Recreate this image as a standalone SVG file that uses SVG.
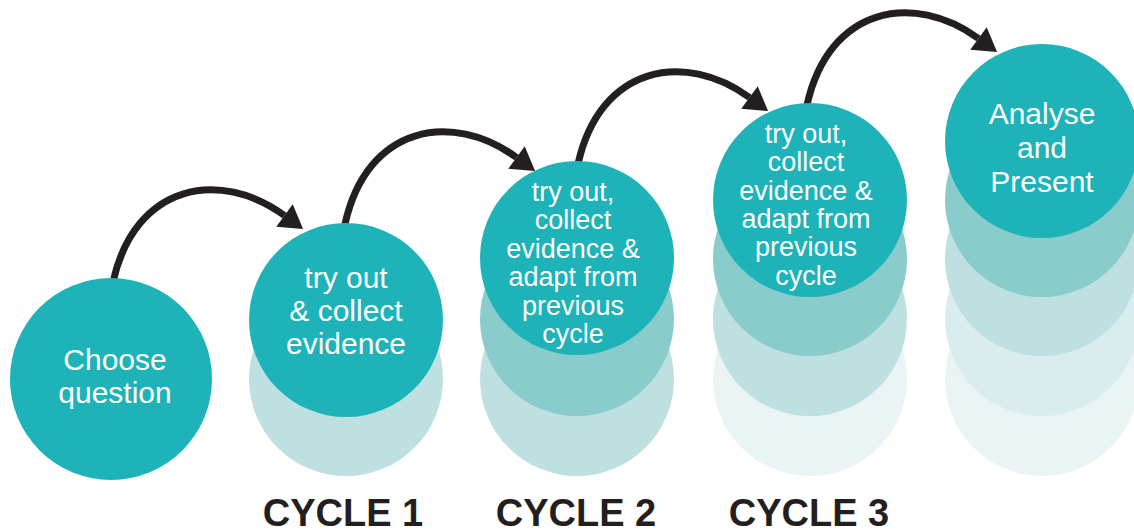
<svg xmlns="http://www.w3.org/2000/svg" width="1134" height="531" viewBox="0 0 1134 531">
<defs>
<marker id="ah" markerUnits="userSpaceOnUse" markerWidth="30" markerHeight="32" refX="0" refY="14" orient="auto" viewBox="0 0 30 28" overflow="visible">
<path d="M0,0 L23,14 L0,28 z" fill="#231F20"/>
</marker>
<style>
.c0{fill:#1DB3B8}
.c1{fill:#8ACBCB}
.c2{fill:#BEE0E0}
.c3{fill:#D9EDEF}
.c4{fill:#EAF4F5}
.lbl{font-family:"Liberation Sans",Arial,sans-serif;fill:#FFFFFF;text-anchor:middle}
.big{font-size:30px}
.sm{font-size:27px}
.cyc{font-family:"Liberation Sans",Arial,sans-serif;font-weight:bold;font-size:38px;fill:#231F20;text-anchor:middle}
.arr{fill:none;stroke:#231F20;stroke-width:7;marker-end:url(#ah)}
</style>
</defs>
<rect width="1134" height="531" fill="#FFFFFF"/>
<g id="connectors">
<path class="arr" d="M113,282 C135,183 220,168.6 284.5,215.5"/>
<path class="arr" d="M345,224 C367,125 452,110.6 516.5,157.5"/>
<path class="arr" d="M578,164 C600,65 685,50.6 749.5,97.5"/>
<path class="arr" d="M807,105 C829,6 914,-8.4 978.5,38.5"/>
</g>
<g id="choose">
<circle class="c0" cx="111" cy="379" r="101"/>
<text class="lbl big" x="115" y="370">Choose</text>
<text class="lbl big" x="115" y="403">question</text>
</g>
<g id="cycle1">
<circle class="c2" cx="346" cy="379" r="97"/>
<circle class="c0" cx="346" cy="320" r="97"/>
<text class="lbl big" x="346" y="288">try out</text>
<text class="lbl big" x="346" y="321">&amp; collect</text>
<text class="lbl big" x="346" y="354">evidence</text>
</g>
<g id="cycle2">
<circle class="c2" cx="577" cy="379" r="97"/>
<circle class="c1" cx="577" cy="319" r="97"/>
<circle class="c0" cx="577" cy="258" r="97"/>
<text class="lbl sm" x="573" y="201">try out,</text>
<text class="lbl sm" x="573" y="229.4">collect</text>
<text class="lbl sm" x="573" y="257.8">evidence &amp;</text>
<text class="lbl sm" x="573" y="286.2">adapt from</text>
<text class="lbl sm" x="573" y="314.6">previous</text>
<text class="lbl sm" x="573" y="343">cycle</text>
</g>
<g id="cycle3">
<circle class="c4" cx="810" cy="379" r="97"/>
<circle class="c2" cx="810" cy="319" r="97"/>
<circle class="c1" cx="810" cy="259" r="97"/>
<circle class="c0" cx="810" cy="200" r="97"/>
<text class="lbl sm" x="806" y="143">try out,</text>
<text class="lbl sm" x="806" y="171.3">collect</text>
<text class="lbl sm" x="806" y="199.6">evidence &amp;</text>
<text class="lbl sm" x="806" y="227.9">adapt from</text>
<text class="lbl sm" x="806" y="256.2">previous</text>
<text class="lbl sm" x="806" y="284.5">cycle</text>
</g>
<g id="analyse">
<circle class="c4" cx="1042" cy="379" r="97"/>
<circle class="c3" cx="1042" cy="319" r="97"/>
<circle class="c2" cx="1042" cy="259" r="97"/>
<circle class="c1" cx="1042" cy="200" r="97"/>
<circle class="c0" cx="1042" cy="141" r="97"/>
<text class="lbl big" x="1042" y="124">Analyse</text>
<text class="lbl big" x="1042" y="158">and</text>
<text class="lbl big" x="1042" y="192">Present</text>
</g>
<g id="labels">
<text class="cyc" x="343" y="526">CYCLE 1</text>
<text class="cyc" x="576" y="526">CYCLE 2</text>
<text class="cyc" x="809" y="526">CYCLE 3</text>
</g>
</svg>
